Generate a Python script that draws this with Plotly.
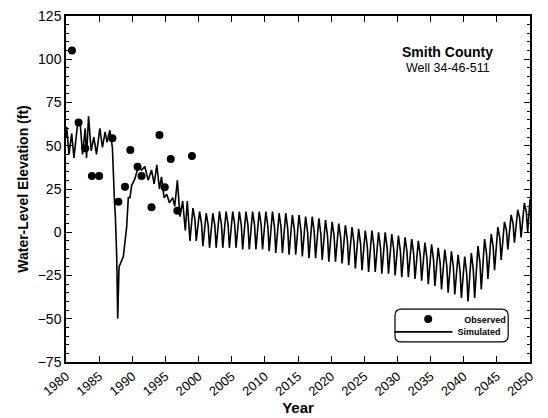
import plotly.graph_objects as go

# Observed water levels
obs_years = [1980.9, 1981.9, 1982.9, 1983.9, 1985.0, 1987.0, 1987.9, 1988.9, 1989.7,
             1990.8, 1991.4, 1992.9, 1994.1, 1994.9, 1995.8, 1996.8, 1999.0]
obs_values = [105, 63.5, 48.5, 32.5, 32.5, 54.3, 17.7, 26.3, 47.5,
              37.9, 32.5, 14.4, 56.2, 26.0, 42.3, 12.5, 44.1]

# Simulated, historical period (read point by point)
sim_early_years = [1980.0, 1980.1, 1980.45, 1980.86, 1981.2, 1981.7, 1982.1, 1982.5, 1982.9,
                   1983.1, 1983.4, 1983.8, 1984.2, 1984.6, 1985.1, 1985.5, 1985.9, 1986.2,
                   1986.6, 1987.0, 1987.3, 1987.45, 1987.65, 1987.8, 1988.0, 1988.25, 1988.65,
                   1989.15, 1989.4, 1989.65, 1989.9, 1990.4, 1990.9, 1991.4, 1991.9, 1992.4,
                   1992.9, 1993.3, 1993.7, 1994.1, 1994.4, 1994.8, 1995.2, 1995.6, 1996.1,
                   1996.4, 1996.8, 1997.2, 1997.6, 1998.0, 1998.3, 1998.7]
sim_early_values = [55, 61, 45, 57, 43, 61, 65, 45, 60,
                    43, 67, 47, 55, 45, 60, 49, 58, 52,
                    59, 49, 19, 9, -14, -50, -20, -18, -14,
                    3, 20, 20, 27, 31, 38, 36, 38, 30,
                    36, 28, 39, 25, 32, 20, 22, 17, 20,
                    15, 30, 9, 18, 1, 18, -5]

# Simulated, projected period: yearly high and low
sim_years = list(range(1999, 2050))
sim_peaks = [14, 12, 11, 11, 12, 12, 12, 12, 12, 12,
             12, 12, 12, 11, 11, 10, 10, 9, 9, 8,
             7, 6, 5, 4, 3, 2, 1, 1, 0, 0,
             -1, -2, -3, -4, -5, -6, -7, -9, -10, -11,
             -13, -14, -12, -8, -4, -1, 3, 6, 10, 13,
             17]
sim_troughs = [-5, -8, -9, -9, -9, -9, -9, -10, -10, -10,
               -10, -11, -12, -12, -13, -13, -14, -15, -15, -16,
               -17, -17, -18, -19, -21, -22, -23, -23, -24, -24,
               -25, -26, -26, -27, -28, -30, -31, -33, -35, -36,
               -38, -40, -38, -33, -27, -22, -16, -10, -6, -3,
               0]
sim_end_year = 2050.0
sim_end_value = 19

sim_x = list(sim_early_years)
sim_y = list(sim_early_values)
for yr, pk, tr in zip(sim_years, sim_peaks, sim_troughs):
    sim_x += [yr + 0.15, yr + 0.45, yr + 0.65]
    sim_y += [pk, (pk + tr) / 2 + 3, tr]
sim_x.append(sim_end_year)
sim_y.append(sim_end_value)

font_fam = "Arial, Liberation Sans, sans-serif"
leg_font = dict(size=9, family=font_fam, weight="bold")

fig = go.Figure()
fig.add_trace(go.Scatter(x=obs_years, y=obs_values, mode="markers", name="Observed",
                         marker=dict(color="black", size=8), legend="legend"))
fig.add_trace(go.Scatter(x=sim_x, y=sim_y, mode="lines", name="Simulated",
                         line=dict(color="black", width=1.6), legend="legend2"))

fig.update_layout(
    width=548, height=418,
    margin=dict(l=66, r=18, t=16, b=56),
    paper_bgcolor="white", plot_bgcolor="white",
    font=dict(family=font_fam, color="black"),
    showlegend=True,
    legend=dict(x=0.703, y=0.124, xanchor="left", yanchor="middle",
                bgcolor="rgba(0,0,0,0)", borderwidth=0, font=leg_font,
                itemwidth=62),
    legend2=dict(x=0.697, y=0.087, xanchor="left", yanchor="middle",
                 bgcolor="rgba(0,0,0,0)", borderwidth=0, font=leg_font,
                 itemwidth=58),
    xaxis=dict(range=[1980, 2050], tickmode="linear", tick0=1980, dtick=5,
               showgrid=False, zeroline=False, showline=True, linecolor="black",
               linewidth=1.5, mirror="ticks", ticks="inside", ticklen=6,
               tickcolor="black", tickangle=-40, automargin=False,
               tickfont=dict(size=13, family=font_fam),
               title=dict(text="Year", font=dict(size=15, family=font_fam, weight="bold"),
                          standoff=0)),
    yaxis=dict(range=[-75, 125], tickmode="linear", tick0=-75, dtick=25,
               showgrid=False, zeroline=False, showline=True, linecolor="black",
               linewidth=1.5, mirror="ticks", ticks="inside", ticklen=6,
               tickcolor="black", automargin=False,
               minor=dict(dtick=5, ticks="inside", ticklen=3, tickcolor="black"),
               tickfont=dict(size=14, family=font_fam),
               title=dict(text="Water-Level Elevation (ft)",
                          font=dict(size=14, family=font_fam, weight="bold"),
                          standoff=6)),
)

# rounded legend frame
x0, x1, y0, y1 = 0.709, 0.953, 0.058, 0.153
rx, ry = 0.014, 0.018
path = (f"M{x0+rx},{y0} L{x1-rx},{y0} Q{x1},{y0} {x1},{y0+ry} L{x1},{y1-ry} "
        f"Q{x1},{y1} {x1-rx},{y1} L{x0+rx},{y1} Q{x0},{y1} {x0},{y1-ry} "
        f"L{x0},{y0+ry} Q{x0},{y0} {x0+rx},{y0} Z")
fig.add_shape(type="path", path=path, xref="paper", yref="paper",
              line=dict(color="black", width=1.2))

fig.add_annotation(text="<b>Smith County</b>", x=0.823, y=0.896, xref="paper", yref="paper",
                   xanchor="center", yanchor="middle",
                   showarrow=False, font=dict(size=14, family=font_fam))
fig.add_annotation(text="Well 34-46-511", x=0.823, y=0.85, xref="paper", yref="paper",
                   xanchor="center", yanchor="middle",
                   showarrow=False, font=dict(size=12.5, family=font_fam))

fig.write_html("out.html")
